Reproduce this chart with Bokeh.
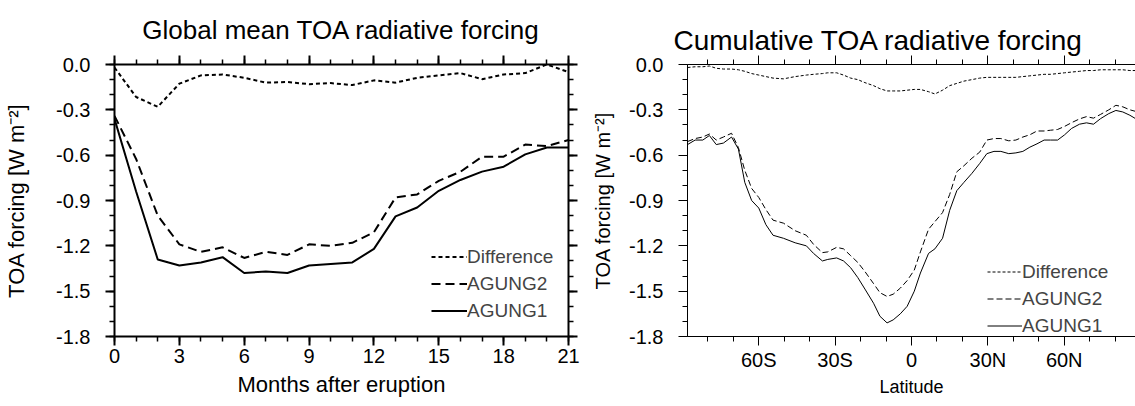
from bokeh.plotting import figure
from bokeh.models import (LinearAxis, FixedTicker, NumeralTickFormatter, Range1d,
                          Legend, LegendItem, Title)
from bokeh.layouts import row
from bokeh.embed import file_html
from bokeh.resources import INLINE

FONT = "Liberation Sans"

# ---------------- data ----------------
months = list(range(22))
agung1_month = [-0.36, -0.84, -1.29, -1.33, -1.31, -1.275, -1.38, -1.37, -1.38, -1.33, -1.32,
                -1.31, -1.22, -1.005, -0.946, -0.836, -0.764, -0.709, -0.676, -0.595, -0.549, -0.55]
agung2_month = [-0.34, -0.625, -1.0, -1.19, -1.24, -1.21, -1.28, -1.24, -1.26, -1.19, -1.20,
                -1.18, -1.11, -0.88, -0.86, -0.77, -0.71, -0.61, -0.61, -0.53, -0.54, -0.50]
diff_month = [-0.02, -0.215, -0.28, -0.127, -0.072, -0.066, -0.088, -0.12, -0.116, -0.13, -0.123,
              -0.136, -0.105, -0.12, -0.088, -0.072, -0.057, -0.097, -0.066, -0.057, 0.0, -0.05]

lat = [-88, -85, -82, -79.4, -76.7, -73.9, -70.7, -68, -65.5, -62.8,
       -60, -57.2, -54.4, -50.3, -45.7, -41.3, -38.5, -35, -32.9, -29.4,
       -26.7, -23.9, -21.1, -18.3, -14.9, -12.4, -9.6, -7.2, -4.4, -1.7,
       1.1, 3.5, 6.7, 9.2, 12.2, 15, 17.8, 20.6, 23.75, 26.8,
       29.6, 32.4, 35.1, 38.2, 41, 43.75, 46.5, 49.3, 52.1, 54.6,
       57.4, 60.1, 62.9, 66, 68.75, 71.5, 74.3, 77.5, 80.3, 83,
       85.8, 88]
agung1_lat = [-0.53, -0.50, -0.50, -0.47, -0.53, -0.52, -0.48, -0.56, -0.78, -0.90,
              -0.95, -1.06, -1.13, -1.15, -1.18, -1.20, -1.25, -1.30, -1.29, -1.28,
              -1.30, -1.345, -1.41, -1.486, -1.58, -1.666, -1.71, -1.69, -1.65, -1.60,
              -1.50, -1.38, -1.25, -1.22, -1.15, -0.965, -0.835, -0.78, -0.72, -0.655,
              -0.59, -0.575, -0.575, -0.59, -0.585, -0.575, -0.547, -0.525, -0.50, -0.50,
              -0.50, -0.466, -0.423, -0.395, -0.386, -0.395, -0.358, -0.325, -0.304, -0.314,
              -0.336, -0.358]
agung2_lat = [-0.51, -0.49, -0.48, -0.46, -0.50, -0.48, -0.455, -0.55, -0.70, -0.82,
              -0.88, -0.96, -1.03, -1.05, -1.10, -1.13, -1.19, -1.245, -1.24, -1.21,
              -1.22, -1.265, -1.31, -1.37, -1.45, -1.51, -1.535, -1.52, -1.48, -1.43,
              -1.36, -1.24, -1.09, -1.04, -0.98, -0.86, -0.71, -0.67, -0.62, -0.58,
              -0.50, -0.49, -0.49, -0.505, -0.50, -0.48, -0.465, -0.44, -0.44, -0.435,
              -0.43, -0.41, -0.385, -0.36, -0.345, -0.355, -0.33, -0.30, -0.27, -0.28,
              -0.30, -0.31]
diff_lat = [-0.02, -0.015, -0.015, -0.01, -0.025, -0.03, -0.03, -0.035, -0.045, -0.06,
            -0.07, -0.08, -0.09, -0.095, -0.08, -0.07, -0.065, -0.06, -0.055, -0.055,
            -0.07, -0.09, -0.10, -0.12, -0.14, -0.16, -0.175, -0.175, -0.175, -0.17,
            -0.165, -0.165, -0.18, -0.195, -0.17, -0.14, -0.125, -0.11, -0.10, -0.09,
            -0.085, -0.085, -0.085, -0.085, -0.085, -0.08, -0.075, -0.07, -0.065, -0.065,
            -0.06, -0.055, -0.05, -0.045, -0.04, -0.04, -0.035, -0.035, -0.035, -0.035,
            -0.04, -0.04]

y_ticks = [-1.8, -1.5, -1.2, -0.9, -0.6, -0.3, 0.0]
y_minor = [round(-1.8 + 0.1 * i, 1) for i in range(19)]
month_ticks = [0, 3, 6, 9, 12, 15, 18, 21]
month_minor = list(range(22))
lat_ticks = [-60, -30, 0, 30, 60]
lat_tick_labels = ["60S", "30S", "0", "30N", "60N"]
lat_minor = [-80, -70, -60, -50, -40, -30, -20, -10, 0, 10, 20, 30, 40, 50, 60, 70, 80]

series_names = ["Difference", "AGUNG2", "AGUNG1"]
title_left = "Global mean TOA radiative forcing"
title_right = "Cumulative TOA radiative forcing"
ylabel = "TOA forcing [W m\u207b\u00b2]"


def style_axis(ax, lw, labels=True, fs="20px"):
    ax.axis_line_width = lw
    ax.axis_line_color = "black"
    ax.major_tick_line_width = lw
    ax.minor_tick_line_width = max(1, lw * 0.75)
    ax.major_tick_in = 0
    ax.major_tick_out = 9
    ax.minor_tick_in = 0
    ax.minor_tick_out = 5
    ax.major_label_text_font = FONT
    ax.major_label_text_color = "black"
    ax.axis_label_text_font = FONT
    ax.axis_label_text_font_style = "normal"
    ax.axis_label_text_color = "black"
    if labels:
        ax.major_label_text_font_size = fs
        ax.major_label_standoff = 3
    else:
        ax.major_label_text_font_size = "0px"
        ax.major_label_text_alpha = 0
        ax.major_label_standoff = 0
        ax.axis_label_standoff = 0


H = 402
W1 = 582
W2 = 1135 - W1

# ---------------- left panel ----------------
p1 = figure(width=W1, height=H, x_range=Range1d(0, 21), y_range=Range1d(-1.8, 0),
            output_backend="svg", toolbar_location=None,
            min_border_left=114, min_border_right=W1 - 568,
            min_border_top=64, min_border_bottom=H - 336)
p1.grid.visible = False
p1.outline_line_color = None
p1.background_fill_color = "white"

xt = FixedTicker(ticks=month_ticks, minor_ticks=month_minor)
yt = FixedTicker(ticks=y_ticks, minor_ticks=y_minor)
p1.xaxis.ticker = xt
p1.yaxis.ticker = yt
p1.yaxis.formatter = NumeralTickFormatter(format="0.0")
for ax in p1.xaxis + p1.yaxis:
    style_axis(ax, 2)
p1.yaxis.major_label_standoff = 15
p1.xaxis.axis_label = "Months after eruption"
p1.xaxis.axis_label_text_font_size = "22px"
p1.xaxis.axis_label_standoff = 6
p1.yaxis.axis_label = ylabel
p1.yaxis.axis_label_text_font_size = "22px"
p1.yaxis.axis_label_standoff = 24

top1 = LinearAxis(ticker=xt)
style_axis(top1, 2, labels=False)
p1.add_layout(top1, "above")
right1 = LinearAxis(ticker=yt)
style_axis(right1, 2, labels=False)
p1.add_layout(right1, "right")

p1.add_layout(Title(text=title_left, align="center", text_font=FONT,
                    text_font_size="26px", text_font_style="normal",
                    text_line_height=0.7,
                    text_color="black", standoff=22), "above")

r_d1 = p1.line(months, diff_month, line_color="black", line_width=2, line_dash="4 3")
r_a21 = p1.line(months, agung2_month, line_color="black", line_width=2, line_dash="9 5")
r_a11 = p1.line(months, agung1_month, line_color="black", line_width=2)

leg1 = Legend(items=[LegendItem(label=series_names[0], renderers=[r_d1]),
                     LegendItem(label=series_names[1], renderers=[r_a21]),
                     LegendItem(label=series_names[2], renderers=[r_a11])],
              location=(317, 12), orientation="vertical",
              border_line_color=None, background_fill_alpha=0,
              padding=0, margin=0, spacing=0, glyph_width=36, glyph_height=27,
              label_height=27, label_standoff=0,
              label_text_font=FONT, label_text_font_size="19px")
p1.add_layout(leg1)

# ---------------- right panel ----------------
p2 = figure(width=W2, height=H, x_range=Range1d(-88, 88), y_range=Range1d(-1.8, 0),
            output_backend="svg", toolbar_location=None,
            min_border_left=687 - W1, min_border_right=0,
            min_border_top=64, min_border_bottom=H - 340)
p2.grid.visible = False
p2.outline_line_color = None
p2.background_fill_color = "white"

xt2 = FixedTicker(ticks=lat_ticks, minor_ticks=lat_minor)
yt2 = FixedTicker(ticks=y_ticks, minor_ticks=y_minor)
p2.xaxis.ticker = xt2
p2.xaxis.major_label_overrides = dict(zip(lat_ticks, lat_tick_labels))
p2.yaxis.ticker = yt2
p2.yaxis.formatter = NumeralTickFormatter(format="0.0")
for ax in p2.xaxis + p2.yaxis:
    style_axis(ax, 1)
p2.yaxis.major_label_standoff = 15
p2.xaxis.axis_label = "Latitude"
p2.xaxis.axis_label_text_font_size = "18px"
p2.xaxis.axis_label_standoff = 3
p2.yaxis.axis_label = ylabel
p2.yaxis.axis_label_text_font_size = "20px"
p2.yaxis.axis_label_standoff = 12

top2 = LinearAxis(ticker=xt2)
style_axis(top2, 1, labels=False)
p2.add_layout(top2, "above")

p2.add_layout(Title(text=title_right, align="left", offset=-14, text_font=FONT,
                    text_font_size="28px", text_font_style="normal",
                    text_color="black", standoff=0), "above")

r_d2 = p2.line(lat, diff_lat, line_color="black", line_width=1, line_dash="3 2")
r_a22 = p2.line(lat, agung2_lat, line_color="black", line_width=1, line_dash="6 3")
r_a12 = p2.line(lat, agung1_lat, line_color="black", line_width=1)

leg2 = Legend(items=[LegendItem(label=series_names[0], renderers=[r_d2]),
                     LegendItem(label=series_names[1], renderers=[r_a22]),
                     LegendItem(label=series_names[2], renderers=[r_a12])],
              location=(300, -3), orientation="vertical",
              border_line_color=None, background_fill_alpha=0,
              padding=0, margin=0, spacing=0, glyph_width=35, glyph_height=27,
              label_height=27, label_standoff=0,
              label_text_font=FONT, label_text_font_size="19px")
p2.add_layout(leg2)

layout = row(p1, p2)
open("out.html", "w").write(file_html(layout, INLINE))
